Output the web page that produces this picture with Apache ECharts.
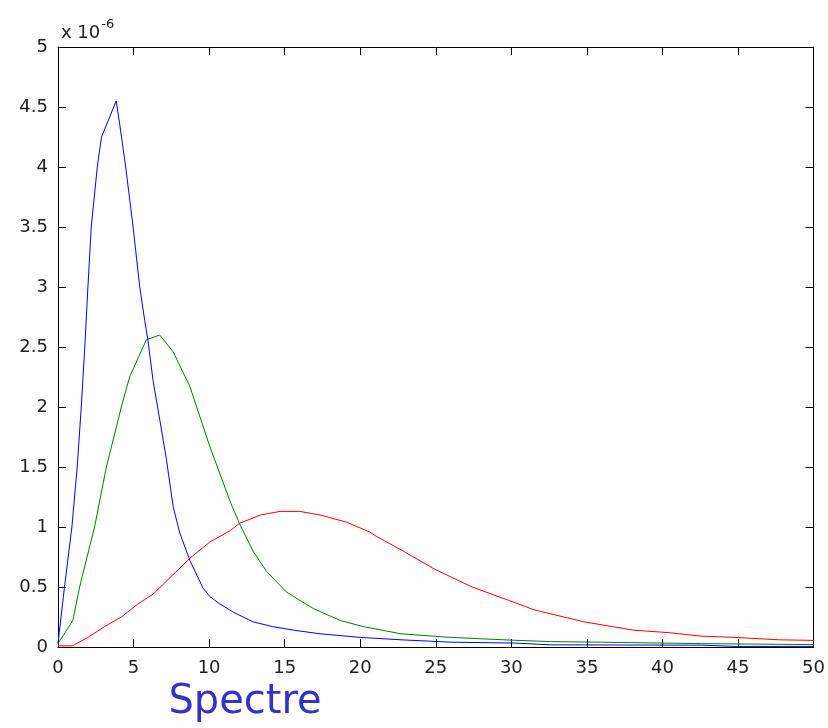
<!DOCTYPE html>
<html>
<head>
<meta charset="utf-8">
<script src="https://cdn.jsdelivr.net/npm/echarts@6/dist/echarts.min.js"></script>
<style>
html,body{margin:0;padding:0;background:#fff;}
#chart{width:828px;height:728px;}
</style>
</head>
<body>
<div id="chart"></div>
<script>
// Values in units of 1e-6
const blueX = [0,0.43,0.92,1.27,1.54,1.76,1.98,2.2,2.6,2.88,3.85,4.08,4.48,4.97,5.41,5.74,5.96,6.29,6.74,7.18,7.62,8.06,8.73,9.6,10.05,10.7,11.6,12.9,14.2,15.6,17.35,20,22.7,26,30.2,32.6,42.6,44.8,50];
const blueY = [0.03,0.5,1.0,1.5,2.0,2.47,3.0,3.5,4.0,4.25,4.55,4.36,4.0,3.5,3.0,2.72,2.55,2.22,1.89,1.56,1.17,0.95,0.72,0.49,0.42,0.36,0.29,0.21,0.17,0.14,0.11,0.08,0.06,0.04,0.033,0.018,0.015,0.005,0.005];

const greenX = [0,0.98,1.43,2.42,3.2,4.19,4.74,5.52,5.85,6.73,7.62,8.73,10.05,11.4,12.0,12.9,13.8,15.1,16.9,18.7,20.2,22.7,26,30.2,32.6,35.9,42.6,50];
const greenY = [0.03,0.22,0.5,1.0,1.5,2.0,2.25,2.47,2.56,2.6,2.46,2.17,1.67,1.21,1.03,0.8,0.63,0.46,0.32,0.22,0.17,0.11,0.08,0.056,0.045,0.04,0.028,0.02];

const redX = [0,0.96,1.98,3.09,4.19,5.3,6.29,8.73,10.05,11.4,12.0,13.4,14.7,16.0,17.35,19.1,20.6,21.1,22.7,24.9,27.4,29.8,31.5,34.8,38.1,40.4,42.6,44.8,47.7,50];
const redY = [0.01,0.01,0.08,0.17,0.25,0.36,0.44,0.74,0.875,0.97,1.03,1.10,1.13,1.13,1.10,1.04,0.96,0.92,0.81,0.65,0.5,0.39,0.31,0.21,0.14,0.12,0.09,0.08,0.06,0.055];

const xTicks = [0,5,10,15,20,25,30,35,40,45,50];
const yTicks = [0,0.5,1,1.5,2,2.5,3,3.5,4,4.5,5];
const scaleLabel = 'x 10';
const scaleExp = '-6';
const caption = 'Spectre';

const pairs = (xs, ys) => xs.map((x, i) => [x, ys[i]]);

const chart = echarts.init(document.getElementById('chart'), null, {renderer: 'canvas'});
const axisFont = {fontFamily: 'DejaVu Sans', fontSize: 18, color: '#222'};
const boxLine = {show: true, onZero: false, lineStyle: {color: '#000', width: 1}};
const inTick = {show: true, inside: true, length: 8, lineStyle: {color: '#000', width: 1}};

chart.setOption({
  animation: false,
  backgroundColor: '#fff',
  grid: {left: 58, right: 13, top: 47, bottom: 81, containLabel: false},
  xAxis: [
    {type: 'value', position: 'bottom', min: xTicks[0], max: xTicks[xTicks.length-1], interval: 5,
     axisLine: boxLine, axisTick: inTick, splitLine: {show: false},
     axisLabel: Object.assign({margin: 12, formatter: v => String(v)}, axisFont)},
    {type: 'value', position: 'top', min: xTicks[0], max: xTicks[xTicks.length-1], interval: 5,
     axisLine: boxLine, axisTick: inTick, splitLine: {show: false}, axisLabel: {show: false}}
  ],
  yAxis: [
    {type: 'value', position: 'left', min: yTicks[0], max: yTicks[yTicks.length-1], interval: 0.5,
     axisLine: boxLine, axisTick: inTick, splitLine: {show: false},
     axisLabel: Object.assign({margin: 10, formatter: v => String(v)}, axisFont)},
    {type: 'value', position: 'right', min: yTicks[0], max: yTicks[yTicks.length-1], interval: 0.5,
     axisLine: boxLine, axisTick: inTick, splitLine: {show: false}, axisLabel: {show: false}}
  ],
  title: [
    {text: '{b|' + scaleLabel + '}{s|' + scaleExp + '}', left: 56, top: 13,
     textStyle: {fontWeight: 'normal', rich: {
       b: {fontFamily: 'DejaVu Sans', fontSize: 18, fontWeight: 'normal', color: '#222', verticalAlign: 'bottom', lineHeight: 24},
       s: {fontFamily: 'DejaVu Sans', fontSize: 13, fontWeight: 'normal', color: '#222', verticalAlign: 'top', lineHeight: 24, padding: [0,0,12,1]}
     }}},
    {text: caption, left: 240, top: 678, textAlign: 'center',
     textStyle: {fontFamily: 'DejaVu Sans', fontSize: 40, fontWeight: 'normal', color: '#3333cc'}}
  ],
  series: [
    {type: 'line', name: 'red', data: pairs(redX, redY), showSymbol: false, symbol: 'none',
     lineStyle: {color: '#ff0000', width: 1}, xAxisIndex: 0, yAxisIndex: 0},
    {type: 'line', name: 'green', data: pairs(greenX, greenY), showSymbol: false, symbol: 'none',
     lineStyle: {color: '#008000', width: 1}, xAxisIndex: 0, yAxisIndex: 0},
    {type: 'line', name: 'blue', data: pairs(blueX, blueY), showSymbol: false, symbol: 'none',
     lineStyle: {color: '#0000ff', width: 1}, xAxisIndex: 0, yAxisIndex: 0}
  ]
});
</script>
</body>
</html>
